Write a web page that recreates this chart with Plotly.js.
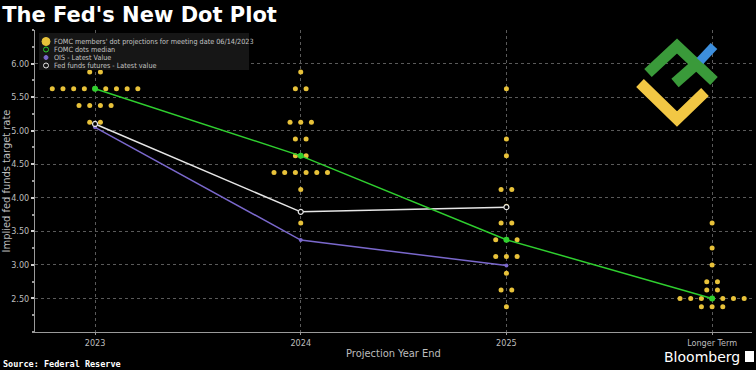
<!DOCTYPE html>
<html>
<head>
<meta charset="utf-8">
<script src="https://cdn.plot.ly/plotly-3.0.1.min.js"></script>
<style>
html,body{margin:0;padding:0;background:#000;}
#chart{width:756px;height:370px;}
</style>
</head>
<body>
<div id="chart"></div>
<script>
const categories = ['2023', '2024', '2025', 'Longer Term'];

// FOMC members' dots: rate levels and number of participants at each level
const dotRates2023 = [6.125, 5.875, 5.625, 5.375, 5.125];
const dotCounts2023 = [1, 2, 9, 4, 2];
const dotRates2024 = [5.875, 5.625, 5.125, 4.875, 4.625, 4.375, 4.125, 3.625];
const dotCounts2024 = [1, 2, 3, 2, 2, 6, 1, 1];
const dotRates2025 = [5.625, 4.875, 4.625, 4.125, 3.875, 3.625, 3.375, 3.125, 2.875, 2.625, 2.375];
const dotCounts2025 = [1, 1, 1, 2, 1, 2, 3, 3, 1, 2, 1];
const dotRatesLT = [3.625, 3.25, 3.0, 2.75, 2.625, 2.5, 2.375];
const dotCountsLT = [1, 1, 1, 2, 2, 7, 3];

const medianValues = [5.625, 4.625, 3.375, 2.5];
const oisValues = [5.05, 3.37, 2.99];
const futuresValues = [5.10, 3.79, 3.86];

const yTickVals = [2.5, 3.0, 3.5, 4.0, 4.5, 5.0, 5.5, 6.0];

const legendNames = ["FOMC members' dot projections for meeting date 06/14/2023",
                     'FOMC dots median', 'OIS - Latest Value', 'Fed funds futures - Latest value'];

// build beeswarm positions
const dotSpacing = 0.052;
const dotX = [], dotY = [];
[[dotRates2023, dotCounts2023], [dotRates2024, dotCounts2024],
 [dotRates2025, dotCounts2025], [dotRatesLT, dotCountsLT]].forEach(function (pair, ci) {
  const rates = pair[0], counts = pair[1];
  rates.forEach(function (r, i) {
    const n = counts[i];
    for (let k = 0; k < n; k++) {
      dotX.push(ci + (k - (n - 1) / 2) * dotSpacing);
      dotY.push(r);
    }
  });
});

const idx = categories.map(function (c, i) { return i; });

const gold = '#e8c23a';
const green = '#2fcf2f';
const purple = '#7a68cc';
const white = '#e6e6e6';

const W = 756, H = 370;
const M = {l: 35, r: 4, t: 30, b: 38};
const PW = W - M.l - M.r, PH = H - M.t - M.b;
function px(x) { return (x - M.l) / PW; }
function py(y) { return (H - M.b - y) / PH; }

const traces = [
  {x: dotX, y: dotY, mode: 'markers', type: 'scatter', showlegend: false,
   marker: {color: gold, size: 5}, hoverinfo: 'y'},
  {x: idx.slice(0, oisValues.length), y: oisValues, mode: 'lines+markers', type: 'scatter', showlegend: false,
   line: {color: purple, width: 1.5}, marker: {color: purple, size: 4}},
  {x: idx.slice(0, futuresValues.length), y: futuresValues, mode: 'lines+markers', type: 'scatter', showlegend: false,
   line: {color: white, width: 1.5}, marker: {color: '#000', size: 5, line: {color: white, width: 1.2}}},
  {x: idx, y: medianValues, mode: 'lines+markers', type: 'scatter', showlegend: false,
   line: {color: green, width: 1.5}, marker: {color: green, size: 6}}
];

// custom compact legend (box + symbols + text)
const legendRowsY = [41.5, 49.5, 57.5, 65.5];
const legendSym = [
  {r: 4, fill: gold, stroke: gold},
  {r: 2.5, fill: 'rgba(0,0,0,0)', stroke: green},
  {r: 2, fill: purple, stroke: purple},
  {r: 2.5, fill: 'rgba(0,0,0,0)', stroke: white}
];
const shapes = [
  {type: 'rect', xref: 'paper', yref: 'paper', layer: 'above',
   x0: px(39), x1: px(249), y0: py(33), y1: py(70),
   fillcolor: '#161616', line: {width: 0}}
];
const annotations = [];
legendRowsY.forEach(function (yy, i) {
  const s = legendSym[i];
  shapes.push({type: 'circle', xref: 'paper', yref: 'paper', layer: 'above',
    x0: px(46 - s.r), x1: px(46 + s.r), y0: py(yy + s.r), y1: py(yy - s.r),
    fillcolor: s.fill, line: {color: s.stroke, width: 1}});
  annotations.push({text: legendNames[i], xref: 'paper', yref: 'paper', x: px(51.5), y: py(yy),
    xanchor: 'left', yanchor: 'middle', showarrow: false,
    font: {size: 7.2, color: '#c4c4c4', family: 'Liberation Sans Narrow, DejaVu Sans Condensed, sans-serif'}});
});

// watermark logo (decoration)
shapes.push(
  {type: 'path', xref: 'paper', yref: 'paper', layer: 'above',
   path: 'M ' + px(640) + ' ' + py(83) + ' L ' + px(677) + ' ' + py(119) + ' L ' + px(705) + ' ' + py(92),
   line: {color: '#f2c744', width: 11}},
  {type: 'path', xref: 'paper', yref: 'paper', layer: 'above',
   path: 'M ' + px(648) + ' ' + py(73) + ' L ' + px(677) + ' ' + py(46) + ' L ' + px(714) + ' ' + py(81),
   line: {color: '#3a9a3a', width: 11}},
  {type: 'path', xref: 'paper', yref: 'paper', layer: 'above',
   path: 'M ' + px(675) + ' ' + py(83) + ' L ' + px(700) + ' ' + py(61),
   line: {color: '#3a9a3a', width: 11}},
  {type: 'path', xref: 'paper', yref: 'paper', layer: 'above',
   path: 'M ' + px(700) + ' ' + py(61) + ' L ' + px(714) + ' ' + py(46),
   line: {color: '#3d8fdd', width: 9}},
  {type: 'rect', xref: 'paper', yref: 'paper', x0: px(745), x1: px(754), y0: py(351), y1: py(362),
   fillcolor: '#ffffff', line: {width: 0}}
);

annotations.push(
  {text: '<b>Source: Federal Reserve</b>', xref: 'paper', yref: 'paper', x: px(1), y: py(364),
   xanchor: 'left', yanchor: 'middle', showarrow: false,
   font: {size: 8.5, color: '#ffffff', family: 'DejaVu Sans Mono, monospace'}},
  {text: 'Bloomberg', xref: 'paper', yref: 'paper', x: px(742), y: py(357),
   xanchor: 'right', yanchor: 'middle', showarrow: false,
   font: {size: 14, color: '#ffffff', family: 'DejaVu Sans, sans-serif'}}
);

const layout = {
  width: W, height: H,
  paper_bgcolor: '#000', plot_bgcolor: '#000',
  margin: M,
  font: {family: 'DejaVu Sans, sans-serif', color: '#bdbdbd', size: 9},
  title: {text: "<b>The Fed's New Dot Plot</b>", x: 0.003, xanchor: 'left',
          yref: 'container', y: 0.98, yanchor: 'top',
          font: {family: 'DejaVu Sans, sans-serif', size: 21, color: '#ffffff'}},
  showlegend: false,
  xaxis: {
    range: [-0.292, 3.194], tickvals: idx, ticktext: categories,
    showgrid: true, gridcolor: '#5a5a5a', griddash: 'dot', gridwidth: 1,
    zeroline: false, showline: true, linecolor: '#9a9a9a', linewidth: 1,
    ticks: 'outside', ticklen: 2, tickcolor: '#9a9a9a',
    tickfont: {size: 9, color: '#bdbdbd', family: 'DejaVu Sans Condensed, sans-serif'},
    title: {text: 'Projection Year End', standoff: 2,
            font: {size: 11, color: '#bdbdbd', family: 'DejaVu Sans Condensed, sans-serif'}}
  },
  yaxis: {
    range: [2.0, 6.5], tickvals: yTickVals, tickformat: '.2f',
    showgrid: true, gridcolor: '#5a5a5a', griddash: 'dot', gridwidth: 1,
    zeroline: false, showline: true, linecolor: '#9a9a9a', linewidth: 1,
    ticks: 'outside', ticklen: 3, tickwidth: 2, tickcolor: '#cfcfcf',
    minor: {dtick: 0.25, tick0: 0, ticks: 'outside', ticklen: 2, tickcolor: '#9a9a9a', showgrid: false},
    tickfont: {size: 9, color: '#bdbdbd', family: 'DejaVu Sans Condensed, sans-serif'},
    title: {text: 'Implied fed funds target rate', standoff: 2,
            font: {size: 11, color: '#bdbdbd', family: 'DejaVu Sans Condensed, sans-serif'}}
  },
  annotations: annotations,
  shapes: shapes
};

Plotly.newPlot('chart', traces, layout, {displayModeBar: false, staticPlot: true});
</script>
</body>
</html>
